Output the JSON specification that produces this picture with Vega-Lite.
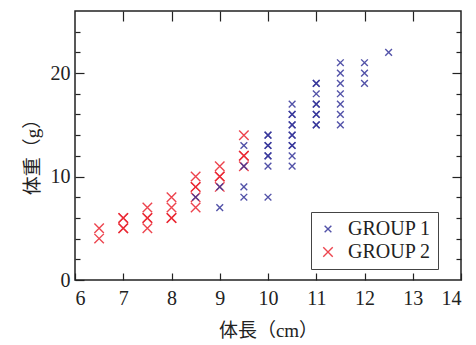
{
  "$schema": "https://vega.github.io/schema/vega-lite/v6.json",
  "width": 386,
  "height": 269,
  "autosize": "none",
  "padding": {"left": 75, "top": 11, "right": 15, "bottom": 65},
  "background": "white",
  "config": {
    "view": {"stroke": "#222", "strokeWidth": 1.5},
    "font": "Liberation Serif, Noto Sans CJK JP",
    "axis": {
      "grid": false,
      "domain": false,
      "tickColor": "#222",
      "tickWidth": 1.2,
      "labelFont": "Liberation Serif",
      "labelFontSize": 20,
      "labelColor": "#222",
      "titleFont": "Liberation Serif, Noto Sans CJK JP",
      "titleFontSize": 19,
      "titleFontWeight": "normal",
      "titleColor": "#222"
    }
  },
  "data": {
    "values": [
      {"length": 6.5, "weight": 5, "group": "GROUP 2"},
      {"length": 6.5, "weight": 4, "group": "GROUP 2"},
      {"length": 7, "weight": 6, "group": "GROUP 2"},
      {"length": 7, "weight": 6, "group": "GROUP 2"},
      {"length": 7, "weight": 5, "group": "GROUP 2"},
      {"length": 7, "weight": 5, "group": "GROUP 2"},
      {"length": 7.5, "weight": 7, "group": "GROUP 2"},
      {"length": 7.5, "weight": 6, "group": "GROUP 2"},
      {"length": 7.5, "weight": 6, "group": "GROUP 2"},
      {"length": 7.5, "weight": 5, "group": "GROUP 2"},
      {"length": 8, "weight": 8, "group": "GROUP 2"},
      {"length": 8, "weight": 7, "group": "GROUP 2"},
      {"length": 8, "weight": 6, "group": "GROUP 2"},
      {"length": 8, "weight": 6, "group": "GROUP 2"},
      {"length": 8.5, "weight": 10, "group": "GROUP 2"},
      {"length": 8.5, "weight": 9, "group": "GROUP 2"},
      {"length": 8.5, "weight": 9, "group": "GROUP 2"},
      {"length": 8.5, "weight": 8, "group": "GROUP 2"},
      {"length": 8.5, "weight": 7, "group": "GROUP 2"},
      {"length": 9, "weight": 11, "group": "GROUP 2"},
      {"length": 9, "weight": 10, "group": "GROUP 2"},
      {"length": 9, "weight": 10, "group": "GROUP 2"},
      {"length": 9, "weight": 9, "group": "GROUP 2"},
      {"length": 9.5, "weight": 14, "group": "GROUP 2"},
      {"length": 9.5, "weight": 12, "group": "GROUP 2"},
      {"length": 9.5, "weight": 12, "group": "GROUP 2"},
      {"length": 9.5, "weight": 11, "group": "GROUP 2"},
      {"length": 8.5, "weight": 8, "group": "GROUP 1"},
      {"length": 9, "weight": 9, "group": "GROUP 1"},
      {"length": 9, "weight": 7, "group": "GROUP 1"},
      {"length": 9.5, "weight": 13, "group": "GROUP 1"},
      {"length": 9.5, "weight": 11, "group": "GROUP 1"},
      {"length": 9.5, "weight": 9, "group": "GROUP 1"},
      {"length": 9.5, "weight": 8, "group": "GROUP 1"},
      {"length": 10, "weight": 14, "group": "GROUP 1"},
      {"length": 10, "weight": 14, "group": "GROUP 1"},
      {"length": 10, "weight": 13, "group": "GROUP 1"},
      {"length": 10, "weight": 13, "group": "GROUP 1"},
      {"length": 10, "weight": 12, "group": "GROUP 1"},
      {"length": 10, "weight": 12, "group": "GROUP 1"},
      {"length": 10, "weight": 11, "group": "GROUP 1"},
      {"length": 10, "weight": 8, "group": "GROUP 1"},
      {"length": 10.5, "weight": 17, "group": "GROUP 1"},
      {"length": 10.5, "weight": 16, "group": "GROUP 1"},
      {"length": 10.5, "weight": 16, "group": "GROUP 1"},
      {"length": 10.5, "weight": 15, "group": "GROUP 1"},
      {"length": 10.5, "weight": 15, "group": "GROUP 1"},
      {"length": 10.5, "weight": 14, "group": "GROUP 1"},
      {"length": 10.5, "weight": 14, "group": "GROUP 1"},
      {"length": 10.5, "weight": 13, "group": "GROUP 1"},
      {"length": 10.5, "weight": 13, "group": "GROUP 1"},
      {"length": 10.5, "weight": 12, "group": "GROUP 1"},
      {"length": 10.5, "weight": 11, "group": "GROUP 1"},
      {"length": 11, "weight": 19, "group": "GROUP 1"},
      {"length": 11, "weight": 19, "group": "GROUP 1"},
      {"length": 11, "weight": 18, "group": "GROUP 1"},
      {"length": 11, "weight": 17, "group": "GROUP 1"},
      {"length": 11, "weight": 17, "group": "GROUP 1"},
      {"length": 11, "weight": 16, "group": "GROUP 1"},
      {"length": 11, "weight": 16, "group": "GROUP 1"},
      {"length": 11, "weight": 15, "group": "GROUP 1"},
      {"length": 11, "weight": 15, "group": "GROUP 1"},
      {"length": 11.5, "weight": 21, "group": "GROUP 1"},
      {"length": 11.5, "weight": 20, "group": "GROUP 1"},
      {"length": 11.5, "weight": 19, "group": "GROUP 1"},
      {"length": 11.5, "weight": 18, "group": "GROUP 1"},
      {"length": 11.5, "weight": 17, "group": "GROUP 1"},
      {"length": 11.5, "weight": 16, "group": "GROUP 1"},
      {"length": 11.5, "weight": 15, "group": "GROUP 1"},
      {"length": 12, "weight": 21, "group": "GROUP 1"},
      {"length": 12, "weight": 20, "group": "GROUP 1"},
      {"length": 12, "weight": 19, "group": "GROUP 1"},
      {"length": 12.5, "weight": 22, "group": "GROUP 1"}
    ]
  },
  "layer": [
    {
      "mark": {"type": "point", "shape": "M-1,-1L1,1M-1,1L1,-1", "filled": false, "strokeWidth": 1.4, "opacity": 0.85},
      "encoding": {
        "x": {"field": "length", "type": "quantitative", "scale": {"domain": [6, 14], "nice": false, "zero": false},
          "axis": {"orient": "bottom", "values": [6, 7, 8, 9, 10, 11, 12, 13, 14], "tickSize": -7, "labelPadding": 15, "title": "体長（cm）", "titlePadding": 13}},
        "y": {"field": "weight", "type": "quantitative", "scale": {"domain": [0, 26], "nice": false},
          "axis": {"orient": "left", "values": [0, 2, 4, 6, 8, 10, 12, 14, 16, 18, 20, 22, 24],
            "labelExpr": "datum.value % 10 === 0 ? datum.label : ''",
            "tickSize": {"condition": {"test": "datum.value % 10 === 0", "value": -9}, "value": -5},
            "labelPadding": 14, "title": "体重（g）", "titlePadding": 8, "titleY": 141}},
        "color": {"field": "group", "type": "nominal", "scale": {"domain": ["GROUP 1", "GROUP 2"], "range": ["#35359a", "#ea2430"]},
          "legend": {"title": null, "orient": "none", "legendX": 236, "legendY": 201, "padding": 7, "strokeColor": "#444", "fillColor": "white",
            "labelFontSize": 20, "labelFont": "Liberation Serif", "labelColor": "#222", "rowPadding": 3, "labelOffset": 10, "symbolStrokeWidth": 1.4, "cornerRadius": 0}},
        "size": {"field": "group", "type": "nominal", "scale": {"domain": ["GROUP 1", "GROUP 2"], "range": [45, 90]}}
      }
    },
    {
      "mark": {"type": "point", "opacity": 0},
      "encoding": {
        "x": {"field": "length", "type": "quantitative",
          "axis": {"orient": "top", "values": [7, 8, 9, 10, 11, 12, 13], "tickSize": -10, "labels": false, "title": null}},
        "y": {"field": "weight", "type": "quantitative",
          "axis": {"orient": "right", "values": [2, 4, 6, 8, 10, 12, 14, 16, 18, 20, 22, 24], "labels": false, "title": null,
            "tickSize": {"condition": {"test": "datum.value % 10 === 0", "value": -9}, "value": -5}}}
      }
    }
  ],
  "resolve": {"axis": {"x": "independent", "y": "independent"}}
}
